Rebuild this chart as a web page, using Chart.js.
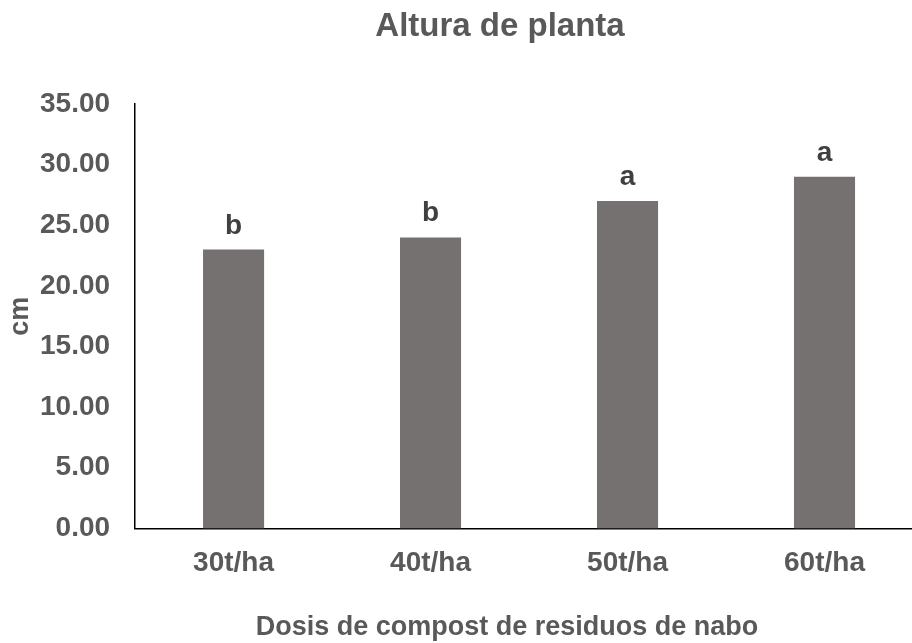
<!DOCTYPE html>
<html>
<head>
<meta charset="utf-8">
<script src="https://cdn.jsdelivr.net/npm/chart.js@4/dist/chart.umd.min.js"></script>
<style>
  html, body { margin: 0; padding: 0; background: #ffffff; overflow: hidden; }
  #wrap { width: 930px; height: 643px; }
</style>
</head>
<body>
<div id="wrap"><canvas id="c" width="930" height="643"></canvas></div>
<script>
const categories = ['30t/ha', '40t/ha', '50t/ha', '60t/ha'];
const heights = [23, 24, 27, 29];
const groupLetters = ['b', 'b', 'a', 'a'];
const yTicks = [0, 5, 10, 15, 20, 25, 30, 35];
const chartTitle = 'Altura de planta';
const xTitle = 'Dosis de compost de residuos de nabo';
const yTitle = 'cm';

const FONT = '"Liberation Sans", Arial, sans-serif';
const TEXT = '#595959';

const textPlugin = {
  id: 'textPlugin',
  afterDatasetsDraw(chart) {
    const ctx = chart.ctx;
    ctx.save();
    // group letters above bars
    const meta = chart.getDatasetMeta(0);
    ctx.font = 'bold 28px ' + FONT;
    ctx.fillStyle = '#404040';
    ctx.textAlign = 'center';
    ctx.textBaseline = 'alphabetic';
    meta.data.forEach((bar, i) => {
      ctx.fillText(groupLetters[i], bar.x, bar.y - 16);
    });
    // chart title
    ctx.font = 'bold 33px ' + FONT;
    ctx.fillStyle = TEXT;
    ctx.fillText(chartTitle, 500, 36);
    // x axis title
    ctx.font = 'bold 27px ' + FONT;
    ctx.fillText(xTitle, 507, 635);
    ctx.restore();
  }
};

new Chart(document.getElementById('c'), {
  type: 'bar',
  data: {
    labels: categories,
    datasets: [{
      data: heights,
      backgroundColor: '#767171',
      borderWidth: 0,
      barPercentage: 0.31,
      categoryPercentage: 1.0
    }]
  },
  options: {
    responsive: false,
    animation: false,
    devicePixelRatio: 1,
    layout: { padding: { left: 0, right: 7, top: 104, bottom: 45 } },
    plugins: {
      legend: { display: false },
      title: { display: false },
      tooltip: { enabled: false }
    },
    scales: {
      x: {
        grid: { display: false, drawTicks: false },
        border: { display: true, color: '#000000', width: 1.5 },
        ticks: {
          color: TEXT,
          padding: 18,
          font: { family: FONT, size: 28, weight: 'bold' }
        }
      },
      y: {
        min: 0,
        max: 35,
        afterBuildTicks(scale) { scale.ticks = yTicks.map(v => ({ value: v })); },
        grid: { display: false, drawTicks: false },
        border: { display: true, color: '#000000', width: 1.5 },
        ticks: {
          color: TEXT,
          padding: 25,
          font: { family: FONT, size: 28, weight: 'bold' },
          callback: v => Number(v).toFixed(2)
        },
        title: {
          display: true,
          text: yTitle,
          color: TEXT,
          font: { family: FONT, size: 27, weight: 'bold', lineHeight: 1 },
          padding: { top: 7, bottom: -19 }
        }
      }
    }
  },
  plugins: [textPlugin]
});
</script>
</body>
</html>
